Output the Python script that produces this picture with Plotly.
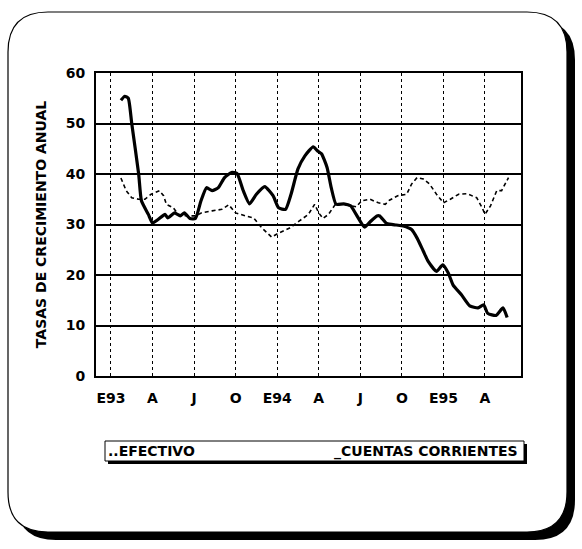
import plotly.graph_objects as go

# months since Jan 1993
cc_month = [0.72, 1.0, 1.25, 1.5, 2.0, 2.2, 2.7, 3.0, 3.4, 3.9, 4.1, 4.6, 5.0, 5.3, 5.7, 6.1,
            6.5, 6.9, 7.3, 7.75, 8.2, 8.7, 9.1, 9.55, 10.0, 10.5, 11.1, 11.7, 12.1, 12.6, 13.0,
            13.5, 14.0, 14.6, 14.9, 15.2, 15.6, 15.9, 16.25, 16.8, 17.3, 17.7, 18.3, 18.7, 19.2,
            19.4, 19.9, 20.6, 21.1, 21.7, 22.1, 22.55, 22.9, 23.5, 23.95, 24.35, 24.7, 25.3,
            25.9, 26.5, 26.9, 27.2, 27.8, 28.3, 28.6]
cc_value = [54.6, 55.4, 55.0, 50.0, 40.0, 34.7, 32.0, 30.3, 31.0, 32.0, 31.3, 32.3, 31.7, 32.3,
            31.2, 31.2, 34.7, 37.3, 36.7, 37.3, 39.3, 40.3, 40.1, 36.7, 34.1, 36.0, 37.5, 35.7,
            33.3, 33.0, 36.0, 41.0, 43.6, 45.4, 44.6, 44.0, 41.3, 37.3, 34.0, 34.1, 33.7, 32.0,
            29.5, 30.5, 31.7, 31.7, 30.2, 29.9, 29.7, 29.0, 27.3, 24.7, 22.7, 20.7, 22.0, 20.4,
            18.0, 16.1, 13.9, 13.5, 14.1, 12.4, 12.0, 13.5, 11.6]

ef_month = [0.72, 1.1, 1.5, 2.0, 2.45, 2.9, 3.5, 3.8, 4.0, 4.5, 4.85, 5.5, 6.1, 6.55, 7.3, 8.0,
            8.5, 9.0, 9.7, 10.3, 10.9, 11.6, 12.1, 12.9, 13.6, 14.25, 14.7, 15.0, 15.3, 15.7,
            16.2, 16.8, 17.7, 18.1, 18.7, 19.3, 19.8, 20.1, 20.7, 21.35, 21.7, 22.1, 22.55,
            23.0, 23.5, 24.0, 24.5, 25.1, 25.7, 26.4, 26.8, 27.0, 27.4, 27.85, 28.2, 28.7]
ef_value = [39.2, 36.7, 35.3, 35.0, 35.0, 36.0, 36.7, 35.7, 34.0, 33.3, 32.0, 31.7, 31.7, 32.3,
            32.7, 33.0, 33.9, 32.3, 31.7, 31.3, 29.3, 27.5, 28.3, 29.3, 30.7, 32.0, 34.0, 32.3,
            31.2, 32.0, 34.0, 34.0, 33.5, 34.7, 35.0, 34.3, 34.0, 34.8, 35.7, 36.0, 38.0, 39.3,
            39.0, 38.0, 36.0, 34.3, 35.0, 36.0, 36.1, 35.3, 33.3, 32.0, 33.7, 36.7, 36.7, 39.3]

tick_pos = [0, 3, 6, 9, 12, 15, 18, 21, 24, 27]
tick_text = ["E93", "A", "J", "O", "E94", "A", "J", "O", "E95", "A"]
y_ticks = [0, 10, 20, 30, 40, 50, 60]

FONT = "DejaVu Sans"
W, H = 582, 549
L, R, T, B = 96, 521, 73, 376


def px(X):
    return (X - L) / (R - L)


def py(Y):
    return (B - Y) / (B - T)


def rrect(x0, y0, x1, y1, r):
    pts = [
        f"M {px(x0 + r)},{py(y0)}",
        f"L {px(x1 - r)},{py(y0)}",
        f"Q {px(x1)},{py(y0)} {px(x1)},{py(y0 + r)}",
        f"L {px(x1)},{py(y1 - r)}",
        f"Q {px(x1)},{py(y1)} {px(x1 - r)},{py(y1)}",
        f"L {px(x0 + r)},{py(y1)}",
        f"Q {px(x0)},{py(y1)} {px(x0)},{py(y1 - r)}",
        f"L {px(x0)},{py(y0 + r)}",
        f"Q {px(x0)},{py(y0)} {px(x0 + r)},{py(y0)}",
        "Z",
    ]
    return " ".join(pts)


fig = go.Figure()
fig.add_trace(go.Scatter(x=ef_month, y=ef_value, mode="lines", name="EFECTIVO",
                         line=dict(color="black", width=1.6, dash="4px,3px")))
fig.add_trace(go.Scatter(x=cc_month, y=cc_value, mode="lines", name="CUENTAS CORRIENTES",
                         line=dict(color="black", width=3.2, shape="spline", smoothing=0.5)))

shapes = [
    dict(type="path", xref="paper", yref="paper", layer="below",
         path=rrect(16, 20, 575, 540, 40), fillcolor="black", line=dict(color="black", width=0)),
    dict(type="path", xref="paper", yref="paper", layer="below",
         path=rrect(8, 12, 567, 532, 40), fillcolor="white", line=dict(color="black", width=1.2)),
    # legend box with shadow
    dict(type="rect", xref="paper", yref="paper", layer="above",
         x0=px(108), x1=px(527), y0=py(444), y1=py(464),
         fillcolor="black", line=dict(width=0)),
    dict(type="rect", xref="paper", yref="paper", layer="above",
         x0=px(105), x1=px(524), y0=py(441), y1=py(461),
         fillcolor="white", line=dict(color="black", width=1)),
]

annotations = [
    dict(xref="paper", yref="paper", x=px(106), y=py(451), xanchor="left", yanchor="middle",
         text="<b>..EFECTIVO</b>", showarrow=False,
         font=dict(family=FONT, size=14, color="black")),
    dict(xref="paper", yref="paper", x=px(520), y=py(451), xanchor="right", yanchor="middle",
         text="<b>_CUENTAS CORRIENTES</b>", showarrow=False,
         font=dict(family=FONT, size=14, color="black")),
]

fig.update_layout(
    width=W, height=H,
    margin=dict(l=L, r=W - R, t=T, b=H - B, pad=0),
    paper_bgcolor="white", plot_bgcolor="white",
    showlegend=False,
    font=dict(family=FONT, size=14, color="black"),
    shapes=shapes, annotations=annotations,
    xaxis=dict(range=[-1.08, 29.6], tickmode="array", tickvals=tick_pos, ticktext=tick_text,
               showgrid=True, gridcolor="black", gridwidth=1, griddash="dot",
               showline=True, linecolor="black", linewidth=2, mirror=True,
               ticks="", ticklabelstandoff=8,
               tickfont=dict(family=FONT, size=14, color="black", weight="bold"),
               zeroline=False, fixedrange=True),
    yaxis=dict(range=[0, 60], tickmode="array", tickvals=y_ticks,
               showgrid=True, gridcolor="black", gridwidth=1.5,
               showline=True, linecolor="black", linewidth=2, mirror=True,
               ticks="", ticklabelstandoff=6,
               tickfont=dict(family=FONT, size=14, color="black", weight="bold"),
               title=dict(text="<b>TASAS DE CRECIMIENTO ANUAL</b>", standoff=16,
                          font=dict(family=FONT, size=14, color="black")),
               zeroline=False, fixedrange=True),
)

fig.write_html("out.html")
